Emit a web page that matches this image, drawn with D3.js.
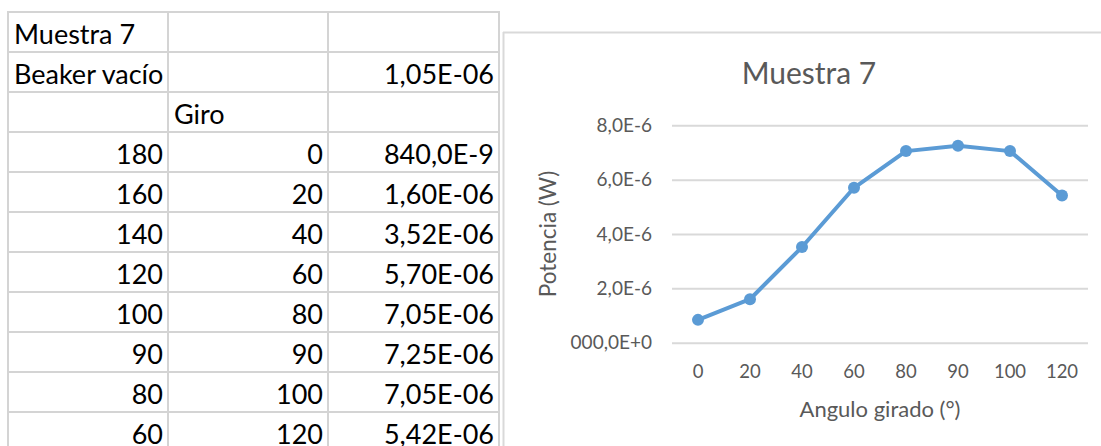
<!DOCTYPE html>
<html>
<head>
<meta charset="utf-8">
<script src="https://cdn.jsdelivr.net/npm/d3@7"></script>
<style>
  html, body { margin: 0; padding: 0; background: #ffffff; }
  svg { display: block; }
</style>
</head>
<body>
<svg id="sheet" width="1101" height="446"></svg>
<script>
// Hoja de cálculo: posición del polarizador, giro y potencia medida
const titulo = "Muestra 7";
const beakerVacio = 1.05e-6;
const posicion = [180, 160, 140, 120, 100, 90, 80, 60];
const giro = [0, 20, 40, 60, 80, 90, 100, 120];
const potencia = [0.84e-6, 1.60e-6, 3.52e-6, 5.70e-6, 7.05e-6, 7.25e-6, 7.05e-6, 5.42e-6];
const yTicks = [0, 2e-6, 4e-6, 6e-6, 8e-6];
const yTickLabels = ["000,0E+0", "2,0E-6", "4,0E-6", "6,0E-6", "8,0E-6"];
const xTitle = "Angulo girado (°)";
const yTitle = "Potencia (W)";

const svg = d3.select("#sheet");

// Formato de celda tipo Excel para la columna de potencia
function fmtCelda(v) {
  if (v < 1e-6) return (v * 1e9).toFixed(1).replace(".", ",") + "E-9";
  const [m, e] = v.toExponential(2).split("e");
  const exp = Math.abs(+e);
  return m.replace(".", ",") + "E" + (+e < 0 ? "-" : "+") + String(exp).padStart(2, "0");
}

// ---------- Tabla ----------
const colX = [8, 168, 328, 499];
const rowTop = 12, rowH = 40;
const rows = [
  [titulo, "", ""],
  ["Beaker vacío", "", fmtCelda(beakerVacio)],
  ["", "Giro", ""]
].concat(posicion.map((p, i) => [String(p), String(giro[i]), fmtCelda(potencia[i])]));

const table = svg.append("g").attr("class", "tabla");
const nRows = rows.length;
const gridColor = "#d4d4d4";

// líneas horizontales
for (let r = 0; r <= nRows; r++) {
  table.append("line")
    .attr("x1", colX[0] - 1).attr("x2", colX[3] + 1)
    .attr("y1", rowTop + r * rowH).attr("y2", rowTop + r * rowH)
    .attr("stroke", gridColor).attr("stroke-width", 2);
}
// líneas verticales
colX.forEach(x => {
  table.append("line")
    .attr("x1", x).attr("x2", x)
    .attr("y1", rowTop - 1).attr("y2", 446)
    .attr("stroke", gridColor).attr("stroke-width", 2);
});

rows.forEach((row, r) => {
  const base = rowTop + (r + 1) * rowH - 8;
  row.forEach((txt, c) => {
    if (!txt) return;
    const isNum = (r >= 3) || (r === 1 && c === 2);
    table.append("text")
      .attr("x", isNum ? colX[c + 1] - 5 : colX[c] + 6)
      .attr("y", base)
      .attr("text-anchor", isNum ? "end" : "start")
      .attr("font-family", "Lato, 'Open Sans', sans-serif")
      .attr("font-size", 27)
      .attr("fill", "#000000")
      .text(txt);
  });
});

// ---------- Gráfico ----------
const chartBorder = svg.append("g");
chartBorder.append("line")
  .attr("x1", 503.5).attr("x2", 503.5).attr("y1", 32).attr("y2", 446)
  .attr("stroke", "#d9d9d9").attr("stroke-width", 2);
chartBorder.append("line")
  .attr("x1", 503).attr("x2", 1101).attr("y1", 32.5).attr("y2", 32.5)
  .attr("stroke", "#d9d9d9").attr("stroke-width", 2);

const plot = { left: 672, right: 1088, top: 125.3, bottom: 342.7 };
const textColor = "#595959";
const chartFont = "Lato, 'Open Sans', sans-serif";

const x = d3.scaleBand()
  .domain(giro.map(String))
  .range([plot.left, plot.right])
  .padding(0);

const y = d3.scaleLinear()
  .domain([0, 8e-6])
  .range([plot.bottom, plot.top]);

// Título
svg.append("text")
  .attr("x", 809).attr("y", 84)
  .attr("text-anchor", "middle")
  .attr("font-family", chartFont)
  .attr("font-size", 30)
  .attr("fill", textColor)
  .text(titulo);

// Eje Y con líneas de cuadrícula
const yAxis = svg.append("g")
  .attr("transform", `translate(${plot.left},0)`)
  .call(d3.axisLeft(y)
    .tickValues(yTicks)
    .tickSize(-(plot.right - plot.left))
    .tickPadding(20)
    .tickFormat((d, i) => yTickLabels[i]));
yAxis.select(".domain").remove();
yAxis.selectAll(".tick line").attr("stroke", "#d9d9d9").attr("stroke-width", 2);
yAxis.selectAll(".tick text")
  .attr("font-family", chartFont)
  .attr("font-size", 19)
  .attr("fill", textColor);

// Eje X (categorías)
const xAxis = svg.append("g")
  .attr("transform", `translate(0,${plot.bottom})`)
  .call(d3.axisBottom(x).tickSize(0).tickPadding(0));
xAxis.select(".domain").remove();
xAxis.selectAll(".tick text")
  .attr("y", 35.3)
  .attr("dy", 0)
  .attr("font-family", chartFont)
  .attr("font-size", 18.5)
  .attr("fill", textColor);

// Títulos de ejes
svg.append("text")
  .attr("x", (plot.left + plot.right) / 2).attr("y", 417)
  .attr("text-anchor", "middle")
  .attr("font-family", chartFont)
  .attr("font-size", 22)
  .attr("fill", textColor)
  .text(xTitle);

svg.append("text")
  .attr("transform", `translate(556,${(plot.top + plot.bottom) / 2}) rotate(-90)`)
  .attr("text-anchor", "middle")
  .attr("font-family", chartFont)
  .attr("font-size", 22.5)
  .attr("fill", textColor)
  .text(yTitle);

// Serie
const pts = giro.map((g, i) => ({ g: String(g), v: potencia[i] }));
const cx = d => x(d.g) + x.bandwidth() / 2;

svg.append("path")
  .datum(pts)
  .attr("fill", "none")
  .attr("stroke", "#5b9bd5")
  .attr("stroke-width", 4)
  .attr("stroke-linejoin", "round")
  .attr("d", d3.line().x(cx).y(d => y(d.v)));

svg.selectAll("circle.pt")
  .data(pts)
  .join("circle")
  .attr("class", "pt")
  .attr("cx", cx)
  .attr("cy", d => y(d.v))
  .attr("r", 6)
  .attr("fill", "#5b9bd5");
</script>
</body>
</html>
